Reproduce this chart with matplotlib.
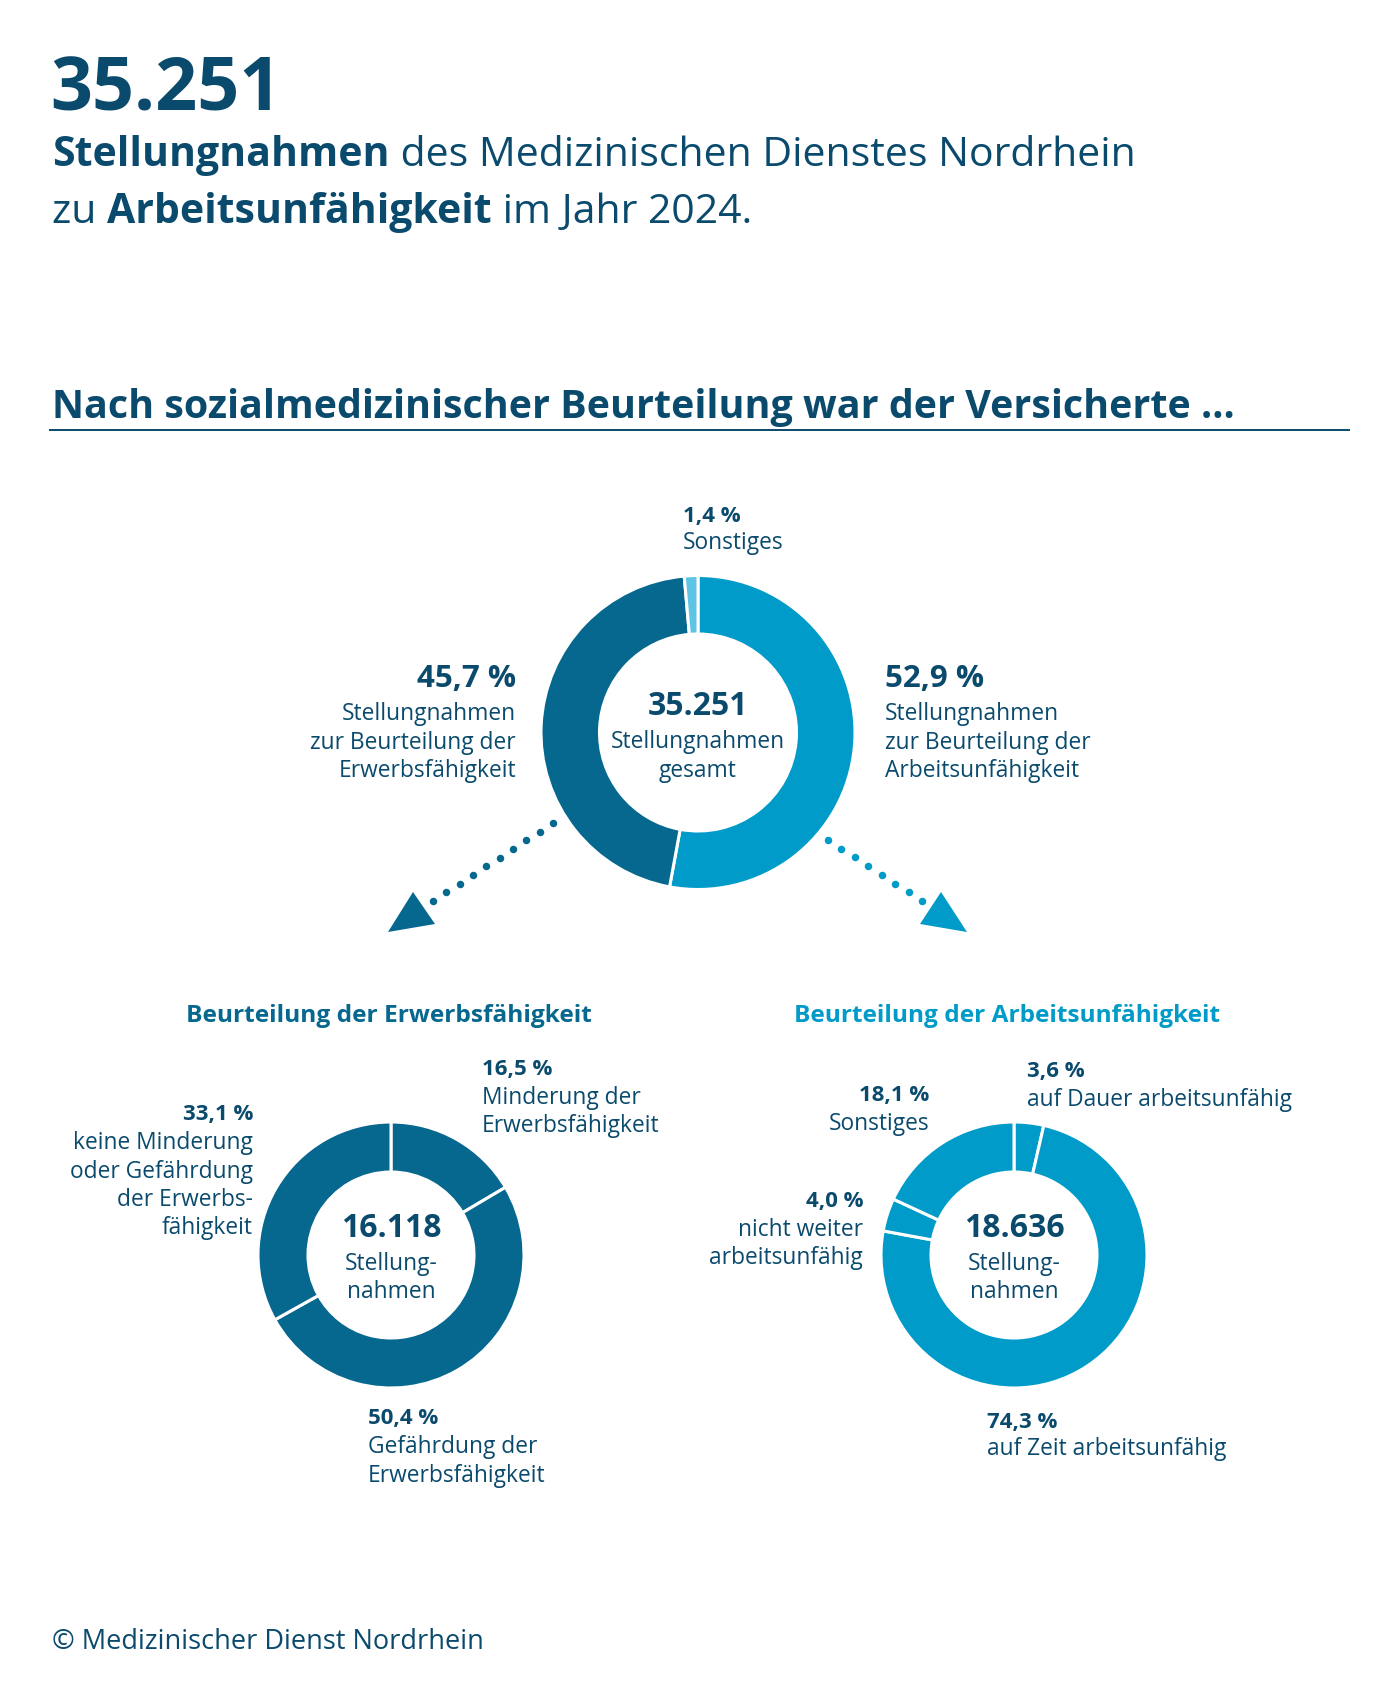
import matplotlib
matplotlib.use("Agg")
import matplotlib.pyplot as plt
from matplotlib import font_manager
from matplotlib.patches import Polygon
import numpy as np

# Colours
NAVY = "#0a4a6d"
DARK = "#06688f"
LIGHT = "#009bc8"
PALE = "#5ec4e6"

# Data
total_all = 35251
year = 2024

top_names = ["Stellungnahmen\nzur Beurteilung der\nArbeitsunfähigkeit",
             "Stellungnahmen\nzur Beurteilung der\nErwerbsfähigkeit",
             "Sonstiges"]
top_values = [52.9, 45.7, 1.4]

erw_total = 16118
erw_names = ["Minderung der\nErwerbsfähigkeit",
             "Gefährdung der\nErwerbsfähigkeit",
             "keine Minderung\noder Gefährdung\nder Erwerbs-\nfähigkeit"]
erw_values = [16.5, 50.4, 33.1]

au_total = 18636
au_names = ["auf Dauer arbeitsunfähig",
            "auf Zeit arbeitsunfähig",
            "nicht weiter\narbeitsunfähig",
            "Sonstiges"]
au_values = [3.6, 74.3, 4.0, 18.1]

plt.rcParams['font.family'] = ['Open Sans', 'DejaVu Sans']
available = {f.name for f in font_manager.fontManager.ttflist}
COND = 'Liberation Sans Narrow' if 'Liberation Sans Narrow' in available else 'Open Sans'

W, H = 1400, 1700
fig = plt.figure(figsize=(W / 100, H / 100), dpi=100)
ax = fig.add_axes([0, 0, 1, 1])
ax.set_xlim(0, W)
ax.set_ylim(H, 0)
renderer = fig.canvas.get_renderer()


def num(n):
    return f"{n:,}".replace(",", ".")


def pct(v):
    return f"{v:.1f}".replace(".", ",") + " %"


def rich(x, y, parts, size, color=NAVY, family=None):
    # draw bold / regular pieces one after another on one baseline
    for s, weight in parts:
        kw = {} if family is None else {'family': family}
        t = ax.text(x, y, s, fontsize=size, fontweight=weight, color=color,
                    va='baseline', ha='left', **kw)
        x += t.get_window_extent(renderer).width
    return x


def measure(parts, size, family=None):
    w = 0
    for s, weight in parts:
        kw = {} if family is None else {'family': family}
        t = ax.text(0, 0, s, fontsize=size, fontweight=weight, **kw)
        w += t.get_window_extent(renderer).width
        t.remove()
    return w


def fit(parts, width, family=None):
    return 20 * width / measure(parts, 20, family)


def block(x, y, value, name, ha, pct_size=16, name_size=16.4, step=28.5, gap=29):
    ax.text(x, y, pct(value), fontsize=pct_size, fontweight='bold', color=NAVY,
            ha=ha, va='baseline')
    for i, line in enumerate(name.split("\n")):
        ax.text(x, y + gap + i * step, line, fontsize=name_size, color=NAVY,
                ha=ha, va='baseline')


def donut(cx, cy, R, r, values, colors):
    # y axis is inverted, so start at 270 and go counterclockwise in data space
    ax.pie(values, colors=colors, center=(cx, cy), radius=R, startangle=270,
           counterclock=True, frame=True,
           wedgeprops=dict(width=R - r, edgecolor='white', linewidth=2.2))


def centre_text(cx, y, number, lines):
    ax.text(cx, y, num(number), fontsize=23, fontweight='bold', color=NAVY,
            ha='center', va='baseline')
    for i, line in enumerate(lines):
        ax.text(cx, y + 33 + i * 28.5, line, fontsize=16.4, color=NAVY,
                ha='center', va='baseline')


# Header
ax.text(50, 110, num(total_all), fontsize=53, fontweight='bold', color=NAVY, va='baseline')
line1 = [("Stellungnahmen", 'bold'), (" des Medizinischen Dienstes Nordrhein", 'normal')]
sub_size = fit(line1, 1081)
rich(52, 166, line1, sub_size)
rich(52, 223, [("zu ", 'normal'), ("Arbeitsunfähigkeit", 'bold'), (f" im Jahr {year}.", 'normal')], sub_size)

heading = [("Nach sozialmedizinischer Beurteilung war der Versicherte ...", 'bold')]
rich(52, 418, heading, fit(heading, 1180, COND), family=COND)
ax.plot([49, 1350], [430, 430], color=NAVY, lw=1.4, solid_capstyle='butt')

# Top donut
donut(698, 732.5, 157, 98.5, top_values, [LIGHT, DARK, PALE])
centre_text(698, 715, total_all, ["Stellungnahmen", "gesamt"])
block(683, 522, top_values[2], top_names[2], 'left', pct_size=16, gap=27)
block(516, 687, top_values[1], top_names[1], 'right', pct_size=22.5, gap=33)
block(885, 687, top_values[0], top_names[0], 'left', pct_size=22.5, gap=33)

# Dotted arrows
for (x0, y0), (x1, y1), n, tri, col in [
        ((553, 823), (433, 901), 10, [(413, 892), (388, 932), (435, 924)], DARK),
        ((828, 840), (922, 901), 8, [(941, 892), (920, 924), (967, 932)], LIGHT)]:
    ax.plot(np.linspace(x0, x1, n), np.linspace(y0, y1, n), 'o', color=col, ms=5.4, mew=0)
    ax.add_patch(Polygon(tri, closed=True, color=col, lw=0))

# Sub headings
h1 = [("Beurteilung der Erwerbsfähigkeit", 'bold')]
h2 = [("Beurteilung der Arbeitsunfähigkeit", 'bold')]
s1 = fit(h1, 406, COND)
s2 = fit(h2, 426, COND)
rich(389 - 203, 1022, h1, s1, color=DARK, family=COND)
rich(1007 - 213, 1022, h2, s2, color=LIGHT, family=COND)

# Bottom left donut
donut(391, 1255, 133, 83, erw_values, [DARK] * 3)
centre_text(391, 1237, erw_total, ["Stellung-", "nahmen"])
block(482, 1075, erw_values[0], erw_names[0], 'left')
block(368, 1424, erw_values[1], erw_names[1], 'left')
block(253, 1120, erw_values[2], erw_names[2], 'right')

# Bottom right donut
donut(1014, 1255, 133, 83, au_values, [LIGHT] * 4)
centre_text(1014, 1237, au_total, ["Stellung-", "nahmen"])
block(1027, 1077, au_values[0], au_names[0], 'left')
block(987, 1428, au_values[1], au_names[1], 'left', gap=27)
block(863, 1207, au_values[2], au_names[2], 'right')
block(929, 1101, au_values[3], au_names[3], 'right')

# Footer
ax.text(52, 1649, "© Medizinischer Dienst Nordrhein", fontsize=19.5, color=NAVY, va='baseline')

ax.set_xlim(0, W)
ax.set_ylim(H, 0)
ax.set_aspect('auto')
ax.axis('off')
fig.savefig("out.png", dpi=100, facecolor='white')
